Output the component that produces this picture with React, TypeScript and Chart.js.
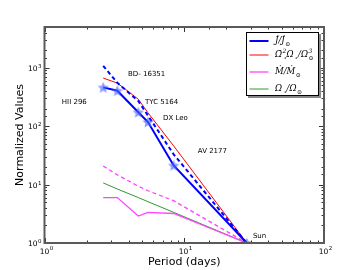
import React, { useEffect, useRef } from 'react';
import { Chart, registerables } from 'chart.js';
Chart.register(...registerables);

// Rotation periods (days) of the stars and the Sun
const periods = [2.63, 3.32, 4.69, 5.5, 8.4, 28];
// Normalized values
const jdotObs = [462, 405, 173, 118, 21.3, 1];
const jdotModel = [1080, 555, 270, 152, 33, 1];
const omegaBarTerm = [667, 548, 290, 170, 46, 1];
const mdotObs = [6.0, 6.0, 2.9, 3.35, 3.2, 1];
const mdotModel = [20.8, 14.7, 9.4, 7.85, 5.3, 1];
const omegaRatio = [10.7, 8.4, 6.0, 5.1, 3.35, 1];

// Legend labels (markup: {_x} subscript, {^x} superscript)
const legendLabels = ['J̇/J̇{_⊙}', 'Ω̄{^2}{_⋆}Ω{_⋆}/Ω{^3}{_⊙}', 'Ṁ/Ṁ{_⊙}', 'Ω{_⋆}/Ω{_⊙}'];
const legendColors = ['#0000ff', '#ff0000', '#ff44ff', '#2e9a2e'];
const legendWidths = [2, 1, 1.3, 1];

// Star name annotations (data coordinates)
const starNames = ['HII 296', 'BD- 16351', 'TYC 5164', 'DX Leo', 'AV 2177', 'Sun'];
const starNameP = [1.33, 3.96, 5.24, 7.05, 12.5, 31];
const starNameV = [263, 790, 253, 135, 37, 1.32];

const xMin = 1, xMax = 100, yMin = 1, yMax = 5000;

const isDecade = (v: number) => {
  const l = Math.log10(v);
  return Math.abs(l - Math.round(l)) < 1e-6;
};

function makeStar(r: number, fill: string) {
  const c = document.createElement('canvas');
  const s = Math.ceil(r * 2 + 2);
  c.width = s;
  c.height = s;
  const g = c.getContext('2d')!;
  g.beginPath();
  for (let i = 0; i < 10; i++) {
    const rr = i % 2 ? r * 0.45 : r;
    const a = -Math.PI / 2 + (i * Math.PI) / 5;
    g.lineTo(s / 2 + rr * Math.cos(a), s / 2 + rr * Math.sin(a) + r * 0.08);
  }
  g.closePath();
  g.fillStyle = fill;
  g.fill();
  return c;
}

function drawMath(ctx: CanvasRenderingContext2D, text: string, x: number, y: number) {
  const re = /\{([_^])([^}]*)\}|([^{]+)/g;
  const mainFont = 'italic 8.5px "DejaVu Serif"';
  const smallFont = 'italic 6px "DejaVu Serif"';
  let m: RegExpExecArray | null;
  let cx = x;
  let pendingSupW = 0;
  let lastWasSup = false;
  ctx.textBaseline = 'middle';
  ctx.textAlign = 'left';
  while ((m = re.exec(text))) {
    if (m[3]) {
      if (lastWasSup) { cx += pendingSupW; }
      lastWasSup = false; pendingSupW = 0;
      ctx.font = mainFont;
      ctx.fillText(m[3], cx, y);
      cx += ctx.measureText(m[3]).width;
    } else {
      ctx.font = smallFont;
      const w = ctx.measureText(m[2]).width;
      if (m[1] === '^') {
        if (lastWasSup) cx += pendingSupW;
        ctx.fillText(m[2], cx + 0.5, y - 3.5);
        pendingSupW = w + 0.5;
        lastWasSup = true;
      } else {
        ctx.fillText(m[2], cx + 0.5, y + 3);
        if (lastWasSup) {
          cx += Math.max(pendingSupW, w + 0.5);
          lastWasSup = false; pendingSupW = 0;
        } else {
          cx += w + 0.5;
        }
      }
    }
  }
}

// draws "10" with a raised exponent
function drawPow(ctx: CanvasRenderingContext2D, exp: number, x: number, y: number, align: 'center' | 'right') {
  ctx.font = '7.5px "DejaVu Sans"';
  const base = '10';
  const bw = ctx.measureText(base).width;
  ctx.font = '5.5px "DejaVu Sans"';
  const es = String(exp);
  const ew = ctx.measureText(es).width;
  const total = bw + ew + 0.5;
  const x0 = align === 'center' ? x - total / 2 : x - total;
  ctx.textAlign = 'left';
  ctx.textBaseline = 'alphabetic';
  ctx.font = '7.5px "DejaVu Sans"';
  ctx.fillText(base, x0, y);
  ctx.font = '5.5px "DejaVu Sans"';
  ctx.fillText(es, x0 + bw + 0.5, y - 3.5);
}

const decorPlugin = {
  id: 'decor',
  afterDatasetsDraw(chart: any) {
    const { ctx, chartArea: a, scales } = chart;
    const xs = scales.x, ys = scales.y;
    ctx.save();
    // annotations
    ctx.fillStyle = '#000';
    ctx.font = '7px "DejaVu Sans"';
    ctx.textAlign = 'left';
    ctx.textBaseline = 'middle';
    starNames.forEach((t, i) => {
      ctx.fillText(t, xs.getPixelForValue(starNameP[i]), ys.getPixelForValue(starNameV[i]));
    });
    // inward ticks + tick labels
    ctx.strokeStyle = '#333';
    ctx.lineWidth = 1;
    const seg = (x1: number, y1: number, x2: number, y2: number) => {
      ctx.beginPath(); ctx.moveTo(x1, y1); ctx.lineTo(x2, y2); ctx.stroke();
    };
    xs.ticks.forEach((t: any) => {
      const px = Math.round(xs.getPixelForValue(t.value)) + 0.5;
      const major = isDecade(t.value);
      const L = major ? 5 : 2.5;
      seg(px, a.bottom, px, a.bottom - L);
      seg(px, a.top, px, a.top + L);
      if (major) {
        ctx.fillStyle = '#000';
        drawPow(ctx, Math.round(Math.log10(t.value)), px + 1, a.bottom + 10.5, 'center');
      }
    });
    ys.ticks.forEach((t: any) => {
      const py = Math.round(ys.getPixelForValue(t.value)) + 0.5;
      const major = isDecade(t.value);
      const L = major ? 5 : 2.5;
      seg(a.left, py, a.left + L, py);
      seg(a.right, py, a.right - L, py);
      if (major) {
        ctx.fillStyle = '#000';
        drawPow(ctx, Math.round(Math.log10(t.value)), a.left - 3, py + 2.5, 'right');
      }
    });
    // frame
    ctx.strokeStyle = '#5a5a5a';
    ctx.lineWidth = 2;
    ctx.strokeRect(a.left, a.top, a.right - a.left, a.bottom - a.top);
    // legend
    const lx = a.right - 78, ly = a.top + 5, lw = 73, lh = 64;
    ctx.fillStyle = '#888';
    ctx.fillRect(lx + 2, ly + 2, lw, lh);
    ctx.fillStyle = '#fff';
    ctx.fillRect(lx, ly, lw, lh);
    ctx.strokeStyle = '#000';
    ctx.lineWidth = 1;
    ctx.strokeRect(lx + 0.5, ly + 0.5, lw - 1, lh - 1);
    const rowY = [9, 23, 40, 57];
    legendLabels.forEach((lab, i) => {
      const yy = ly + rowY[i];
      ctx.strokeStyle = legendColors[i];
      ctx.lineWidth = legendWidths[i];
      ctx.beginPath(); ctx.moveTo(lx + 3.5, yy); ctx.lineTo(lx + 22.5, yy); ctx.stroke();
      ctx.fillStyle = '#000';
      drawMath(ctx, lab, lx + 29, yy);
    });
    ctx.restore();
  },
};

export default function App() {
  const ref = useRef<HTMLCanvasElement>(null);
  useEffect(() => {
    document.body.style.margin = '0';
    const star = makeStar(6, 'rgba(70,100,255,0.65)');
    const pts = (ys: number[]) => periods.map((p, i) => ({ x: p, y: ys[i] }));
    const chart = new Chart(ref.current!, {
      type: 'line',
      data: {
        datasets: [
          { label: 'Jdot obs', data: pts(jdotObs), borderColor: '#0000ff', borderWidth: 2, pointStyle: star as any, pointRadius: 6, tension: 0 },
          { label: 'Jdot model', data: pts(jdotModel), borderColor: '#0000ff', borderWidth: 2, borderDash: [4, 3], pointRadius: 0, tension: 0 },
          { label: 'Omega bar', data: pts(omegaBarTerm), borderColor: '#ff0000', borderWidth: 1, pointRadius: 0, tension: 0 },
          { label: 'Mdot obs', data: pts(mdotObs), borderColor: '#ff44ff', borderWidth: 1.3, pointRadius: 0, tension: 0 },
          { label: 'Mdot model', data: pts(mdotModel), borderColor: '#ff44ff', borderWidth: 1.3, borderDash: [4, 3], pointRadius: 0, tension: 0 },
          { label: 'Omega', data: pts(omegaRatio), borderColor: '#2e9a2e', borderWidth: 1, pointRadius: 0, tension: 0 },
        ],
      },
      options: {
        animation: false,
        responsive: false,
        devicePixelRatio: 1,
        layout: { padding: { top: 27, right: 36, left: 0, bottom: 0 } },
        plugins: { legend: { display: false }, tooltip: { enabled: false } },
        scales: {
          x: {
            type: 'logarithmic',
            min: xMin,
            max: xMax,
            grid: { display: false, drawTicks: false },
            border: { display: false },
            ticks: { display: false, autoSkip: false },
            title: { display: true, text: 'Period (days)', color: '#000', font: { family: 'DejaVu Sans', size: 11, lineHeight: 1 }, padding: { top: 0, bottom: 2.5 } },
            afterFit: (s: any) => { s.height = 27; },
          },
          y: {
            type: 'logarithmic',
            min: yMin,
            max: yMax,
            grid: { display: false, drawTicks: false },
            border: { display: false },
            ticks: { display: false, autoSkip: false },
            title: { display: true, text: 'Normalized Values', color: '#000', font: { family: 'DejaVu Sans', size: 11, lineHeight: 1 }, padding: { top: 14.5, bottom: 0 } },
            afterFit: (s: any) => { s.width = 44.5; },
          },
        },
      },
      plugins: [decorPlugin],
    });
    return () => chart.destroy();
  }, []);
  return <canvas ref={ref} width={360} height={270} style={{ display: 'block', width: 360, height: 270 }} />;
}
